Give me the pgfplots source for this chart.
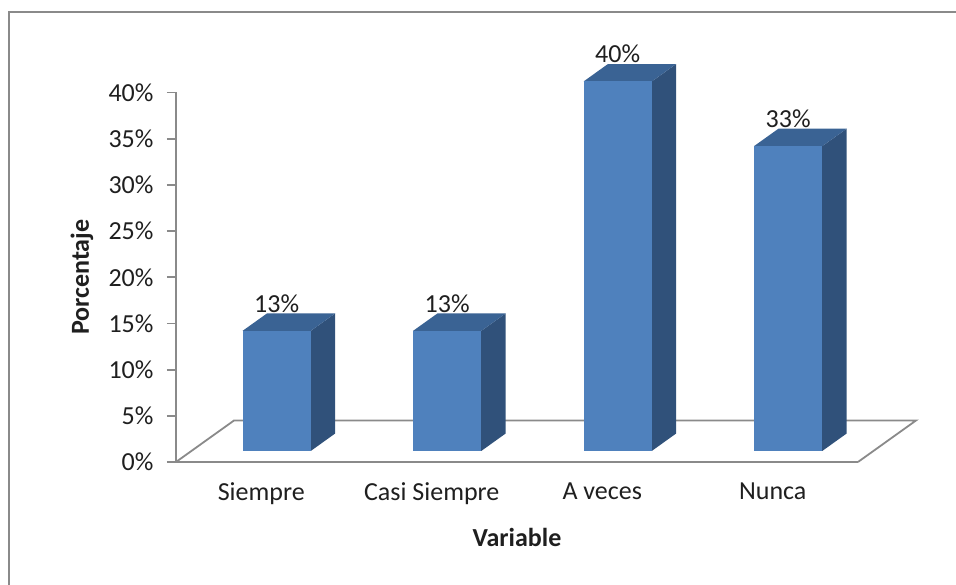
\documentclass[border=0pt]{standalone}
\usepackage{pgfplots}
\pgfplotsset{compat=1.18}
\usepackage{pgfplotstable}
\usepackage{fontspec}
\setmainfont{Carlito}

\definecolor{barfront}{HTML}{4F81BD}
\definecolor{bartop}{HTML}{3A6394}
\definecolor{barside}{HTML}{30517A}
\definecolor{axisgray}{HTML}{8A8A8A}
\definecolor{textdark}{HTML}{1F1F1F}

\pgfplotstableread{
pos val
0.5 13
1.5 13
2.5 40
3.5 33
}\porcentajes

% oblique projection: one full floor depth moves a point by (depthx, depthy) axis units
\def\depthx{0.3402}
\def\depthy{4.4926}
\def\dfront{0.265}% front face of the columns
\def\dback{0.685}% back face of the columns
\def\halfw{0.2}% half column width
\pgfmathsetmacro\floorrx{4+\depthx}

\newcommand\chartfont{\fontsize{26}{31}\selectfont}

\begin{document}
\begin{tikzpicture}[x=1pt,y=1pt]
\useasboundingbox (0,0) rectangle (956,585);
\draw[axisgray, line width=2pt] (9,0) -- (9,573) -- (956,573);
\begin{axis}[
  at={(176pt,123pt)}, anchor=south west,
  scale only axis, width=682pt, height=369.5pt,
  xmin=0, xmax=4, ymin=0, ymax=40, clip=false,
  axis x line*=bottom, axis y line*=left,
  axis line style={axisgray, line width=1.8pt},
  xtick={0.5,1.5,2.5,3.5},
  xticklabels={Siempre,Casi Siempre,A veces,Nunca},
  x tick style={draw=none},
  ytick={0,5,...,40},
  yticklabel={\pgfmathprintnumber{\tick}\%},
  y tick style={axisgray, line width=1.8pt},
  tick align=outside, major tick length=9pt,
  /pgf/number format/assume math mode=true,
  tick label style={font=\chartfont, text=textdark},
  xticklabel shift=8pt, yticklabel shift=10pt,
  xlabel={Variable}, ylabel={Porcentaje},
  label style={font=\chartfont\bfseries, text=textdark},
  xlabel style={at={(axis description cs:0.5,-0.205)}, anchor=center},
  ylabel style={at={(axis description cs:-0.138,0.5)}, anchor=center},
]
% floor of the chart
\edef\drawfloor{\noexpand\addplot[axisgray, line width=1.8pt]
  coordinates {(0,0) (\depthx,\depthy) (\floorrx,\depthy) (4,0)};}
\drawfloor

% columns: side, top and front faces
\pgfplotsinvokeforeach{0,...,3}{
  \pgfplotstablegetelem{#1}{pos}\of\porcentajes \let\barpos\pgfplotsretval
  \pgfplotstablegetelem{#1}{val}\of\porcentajes \let\barval\pgfplotsretval
  \pgfmathsetmacro\xa{\barpos-\halfw+\depthx*\dfront}
  \pgfmathsetmacro\xb{\barpos+\halfw+\depthx*\dfront}
  \pgfmathsetmacro\xc{\barpos+\halfw+\depthx*\dback}
  \pgfmathsetmacro\xd{\barpos-\halfw+\depthx*\dback}
  \pgfmathsetmacro\ya{\depthy*\dfront}
  \pgfmathsetmacro\yb{\barval+\depthy*\dfront}
  \pgfmathsetmacro\yc{\depthy*\dback}
  \pgfmathsetmacro\yd{\barval+\depthy*\dback}
  \edef\drawbar{%
    \noexpand\addplot[draw=none, fill=barside]
      coordinates {(\xb,\ya) (\xc,\yc) (\xc,\yd) (\xb,\yb)};
    \noexpand\addplot[draw=none, fill=bartop]
      coordinates {(\xa,\yb) (\xb,\yb) (\xc,\yd) (\xd,\yd)};
    \noexpand\addplot[draw=none, fill=barfront]
      coordinates {(\xa,\ya) (\xb,\ya) (\xb,\yb) (\xa,\yb)};
  }
  \drawbar
}

% value labels above the columns
\addplot[draw=none, mark=none, point meta=explicit,
  nodes near coords={\pgfmathprintnumber{\pgfplotspointmeta}\%},
  every node near coord/.append style={font=\chartfont, text=textdark,
    anchor=south, inner sep=1pt}]
  table[x expr=\thisrow{pos}+\depthx*\dfront,
        y expr=\thisrow{val}+\depthy*\dback, meta=val] {\porcentajes};
\end{axis}
\end{tikzpicture}
\end{document}
